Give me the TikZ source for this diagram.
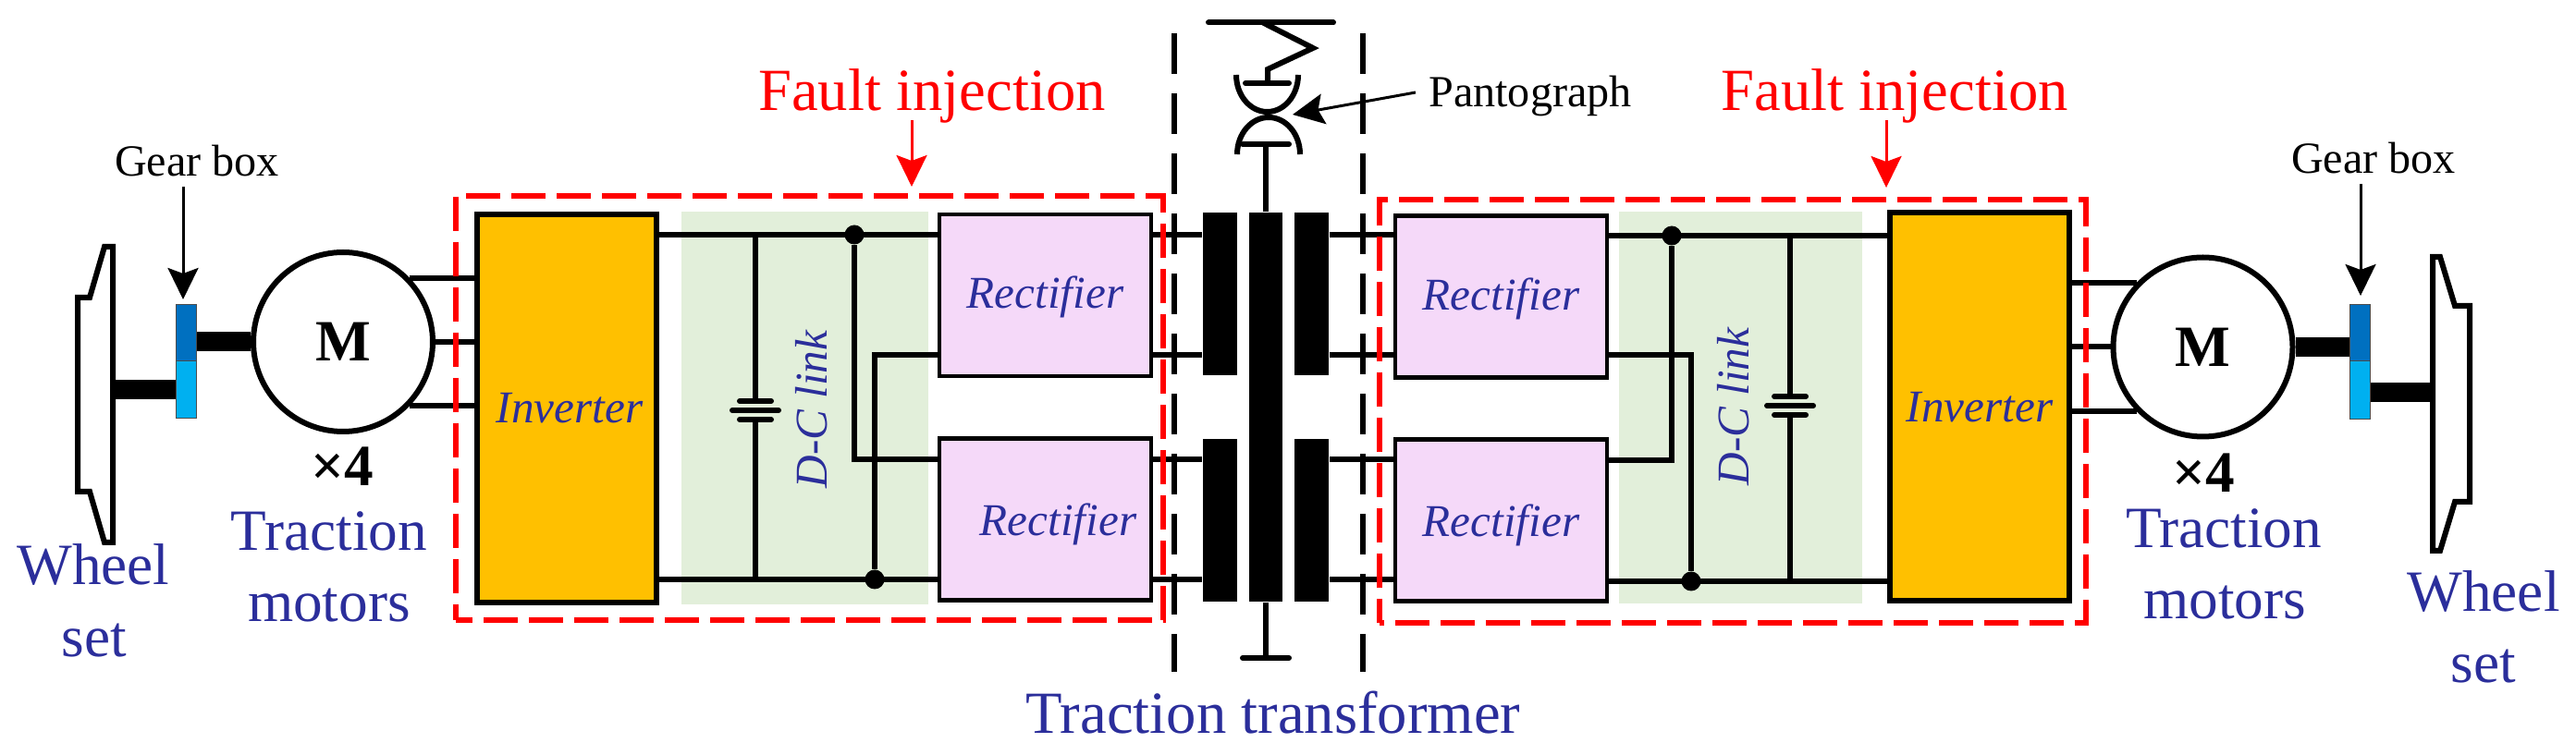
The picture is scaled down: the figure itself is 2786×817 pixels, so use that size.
\documentclass[tikz,border=0pt]{standalone}
\usepackage{fontspec}
\setmainfont{Liberation Serif}
\usetikzlibrary{positioning,arrows.meta}
\definecolor{titleblue}{HTML}{2B2E9B}
\definecolor{inverterfill}{HTML}{FFC000}
\definecolor{linkgreen}{HTML}{E2EFDA}
\definecolor{rectpink}{HTML}{F5D9F9}
\definecolor{geardark}{HTML}{0070C0}
\definecolor{gearlight}{HTML}{00B0F0}
\tikzset{
  wire/.style={line width=.6mm},
  shaft/.style={line width=2.1mm},
  rim/.style={line width=.6mm, line join=miter},
  zone/.style={line width=.6mm, dash pattern=on 4.4mm off 2.1mm},
  pointer/.style={line width=.3mm, -{Stealth[length=3.4mm,width=3.3mm,inset=.6mm]}},
  invbox/.style={draw, line width=.6mm, fill=inverterfill, minimum width=19.4mm, minimum height=42mm, inner sep=0, font=\fontsize{14}{16}\selectfont\itshape, text=titleblue},
  rectbox/.style={draw, line width=.45mm, fill=rectpink, minimum width=22.9mm, minimum height=17.5mm, inner sep=0, text height=3.9mm, text depth=1mm, font=\fontsize{14}{16}\selectfont\itshape, text=titleblue},
  coil/.style={fill=black, minimum width=3.7mm, minimum height=17.6mm, inner sep=0},
  linkbox/.style={fill=linkgreen, inner sep=0},
  faultbox/.style={draw=red, line width=.55mm, dash pattern=on 3.7mm off 1.2mm, inner sep=0},
  motor/.style={draw, circle, line width=.6mm, minimum size=19.4mm, inner sep=0, font=\fontsize{18}{20}\selectfont\bfseries},
  gear/.style={draw=black!70, line width=.1mm, minimum width=2.2mm, minimum height=6.1mm, inner sep=0},
  dot/.style={circle, fill=black, minimum size=2.1mm, inner sep=0},
  bluetxt/.style={anchor=base, inner sep=0, text=titleblue, font=\fontsize{18}{20}\selectfont},
  redtxt/.style={anchor=base, inner sep=0, text=red, font=\fontsize{18.4}{20}\selectfont},
  smalltxt/.style={anchor=base, inner sep=0, font=\fontsize{13.7}{16}\selectfont},
  linktxt/.style={inner sep=0, rotate=90, text=titleblue, font=\fontsize{14}{16}\selectfont\itshape},
}
\begin{document}
\begin{tikzpicture}[x=.1mm, y=-.1mm]
  \useasboundingbox (0,0) rectangle (2786,817);

  % green backgrounds
  \node[linkbox, minimum width=26.7mm, minimum height=42.5mm] (linkL) at (870.5,441.5) {};
  \node[linkbox, minimum width=26.3mm, minimum height=42.4mm] (linkR) at (1882.5,441) {};

  % converter blocks
  \node[invbox] (invL) at (613,442) {\hspace{.6mm}Inverter};
  \node[invbox] (invR) at (2141,440.5) {Inverter};
  \node[rectbox] (rectLa) at (1130.5,319.5) {Rectifier};
  \node[rectbox, text height=4.5mm] (rectLb) at (1130.5,562) {\hspace{2.8mm}Rectifier};
  \node[rectbox] (rectRa) at (1623.5,321) {Rectifier\hspace{2.2mm}};
  \node[rectbox, text height=4.5mm] (rectRb) at (1623.5,563) {Rectifier};
  \node[linktxt] (linkTxtL) at (878,443) {D-C link};
  \node[linktxt] (linkTxtR) at (1875,440) {D-C link};

  % transformer
  \node[coil] (coilLa) at (1319.5,318) {};
  \node[coil] (coilLb) at (1319.5,563) {};
  \node[coil] (coilRa) at (1418.5,318) {};
  \node[coil] (coilRb) at (1418.5,563) {};
  \node[coil, minimum width=3.6mm, minimum height=42.1mm] (core) at (1369,440.5) {};

  % junctions and capacitors
  \node[dot] (dotLa) at (924,254) {};
  \node[dot] (dotLb) at (946,627) {};
  \node[dot] (dotRa) at (1808,255) {};
  \node[dot] (dotRb) at (1829,629) {};
  \coordinate (capL) at (817,444);
  \coordinate (capR) at (1936,439);

  % d-c link wiring
  \draw[wire] (invL.east |- dotLa) -- (rectLa.west |- dotLa);
  \draw[wire] (invL.east |- dotLb) -- (rectLb.west |- dotLb);
  \draw[wire] (dotLa) -- (dotLa |- 0,497) -- (rectLb.west |- 0,497);
  \draw[wire] (rectLa.west |- 0,384) -- (dotLb |- 0,384) -- (dotLb);
  \draw[wire] (rectRa.east |- dotRa) -- (invR.west |- dotRa);
  \draw[wire] (rectRb.east |- dotRb) -- (invR.west |- dotRb);
  \draw[wire] (rectRb.east |- 0,498) -- (dotRa |- 0,498) -- (dotRa);
  \draw[wire] (rectRa.east |- 0,384) -- (dotRb |- 0,384) -- (dotRb);
  \draw[wire] (capL |- dotLa) -- ([yshift=1mm]capL);
  \draw[wire] ([yshift=-1mm]capL) -- (capL |- dotLb);
  \draw[wire] (capR |- dotRa) -- ([yshift=.9mm]capR);
  \draw[wire] ([yshift=-.9mm]capR) -- (capR |- dotRb);
  \foreach \cp in {capL,capR} {
    \draw[wire, line cap=round] ([xshift=-1.7mm,yshift=1mm]\cp) -- ([xshift=1.7mm,yshift=1mm]\cp);
    \draw[wire, line cap=round] ([xshift=-2.5mm]\cp) -- ([xshift=2.5mm]\cp);
    \draw[wire, line cap=round] ([xshift=-1.7mm,yshift=-1mm]\cp) -- ([xshift=1.7mm,yshift=-1mm]\cp);
  }

  % rectifier to transformer
  \foreach \yy in {254,384,497,627} {
    \draw[wire] (rectLa.east |- 0,\yy) -- (coilLa.west |- 0,\yy);
    \draw[wire] (coilRa.east |- 0,\yy) -- (rectRa.west |- 0,\yy);
  }

  % earth and pantograph
  \coordinate (earth) at (1369,712);
  \draw[wire] (core.south) -- (earth);
  \draw[wire, line cap=round] (1344,712) -- (1394,712);
  \coordinate (collector) at (1369,156);
  \draw[wire] (core.north) -- (collector);
  \draw[wire, line cap=round] (1344,156) -- (1394,156);
  \draw[wire] (1338,167) arc[start angle=180, end angle=360, x radius=34, y radius=40];
  \draw[wire] (1337,81) arc[start angle=180, end angle=0, x radius=33.5, y radius=40];
  \draw[wire, line cap=round] (1347,90) -- (1394,90);
  \draw[rim] (1371,90) -- (1371,75) -- (1420,52) -- (1366,24.5);
  \draw[rim, line cap=round] (1307,24.5) -- (1442,24.5);

  % motors, gears and wheels
  \node[motor] (motorL) at (371,370) {M};
  \node[motor] (motorR) at (2382.5,375.5) {M};
  \node[gear, fill=geardark] (gearLa) at (201,360.5) {};
  \node[gear, fill=gearlight, minimum height=6.2mm] (gearLb) at (201,422) {};
  \node[gear, fill=geardark] (gearRa) at (2552.5,360.5) {};
  \node[gear, fill=gearlight, minimum height=6.3mm] (gearRb) at (2552.5,422.5) {};
  \foreach \ang in {44,0,-44}
    \draw[wire] (motorL.\ang) -- (invL.west |- motorL.\ang);
  \foreach \ang in {136,180,224}
    \draw[wire] (invR.east |- motorR.\ang) -- (motorR.\ang);
  \coordinate (hubL) at (122,422);
  \coordinate (hubR) at (2631,425);
  \draw[shaft] (motorL.west) -- (gearLa.east |- motorL.west);
  \draw[shaft] (gearLb.west |- hubL) -- (hubL);
  \draw[shaft] (motorR.east) -- (gearRa.west |- motorR.east);
  \draw[shaft] (gearRb.east |- hubR) -- (hubR);
  \draw[rim] (122,267) -- (113,267) -- (97,322) -- (84,322) -- (84,532) -- (97,532) -- (113,587) -- (122,587) -- cycle;
  \draw[rim] (2631,278) -- (2639,278) -- (2655,331) -- (2671,331) -- (2671,543) -- (2655,543) -- (2639,596) -- (2631,596) -- cycle;

  % fault zones and transformer zone
  \node[faultbox, dash phase=1.9mm, minimum width=76.5mm, minimum height=45.9mm] (faultL) at (875.5,441.5) {};
  \node[faultbox, dash phase=3.2mm, minimum width=76.4mm, minimum height=45.8mm] (faultR) at (1874,445) {};
  \coordinate (zoneLa) at (1270,36);
  \coordinate (zoneLb) at (1270,727);
  \coordinate (zoneRa) at (1474,36);
  \coordinate (zoneRb) at (1474,727);
  \draw[zone] (zoneLa) -- (zoneLb);
  \draw[zone] (zoneRa) -- (zoneRb);

  % labels
  \node[redtxt] (faultTxtL) at (1008,120) {Fault injection};
  \node[redtxt] (faultTxtR) at (2049,120) {Fault injection};
  \node[smalltxt] (gearTxtL) at (213,191) {Gear box};
  \node[smalltxt] (gearTxtR) at (2567,188) {Gear box};
  \node[smalltxt] (pantoTxt) at (1655,116) {Pantograph};
  \node[bluetxt] (wheelTxtL) at (101,633) {Wheel};
  \node[bluetxt] (setTxtL) at (102,711) {set};
  \node[bluetxt] (wheelTxtR) at (2686,662) {Wheel};
  \node[bluetxt] (setTxtR) at (2686,739) {set};
  \node[bluetxt] (tracTxtL) at (356,596) {Traction};
  \node[bluetxt] (motTxtL) at (356,673) {motors};
  \node[bluetxt] (tracTxtR) at (2405,593) {Traction};
  \node[bluetxt] (motTxtR) at (2406,670) {motors};
  \node[bluetxt, font=\fontsize{18.4}{20}\selectfont] (tranTxt) at (1377,794) {Traction transformer};
  \node[anchor=base, inner sep=0, font=\fontsize{18}{20}\selectfont\bfseries] (countL) at (370,526) {×4};
  \node[anchor=base, inner sep=0, font=\fontsize{18}{20}\selectfont\bfseries] (countR) at (2383,533) {×4};

  % pointers
  \coordinate (gearTipL) at (198,324);
  \coordinate (gearTipR) at (2553,320);
  \coordinate (pantoTip) at (1398,124);
  \draw[pointer] (gearTipL |- 0,202) -- (gearTipL);
  \draw[pointer] (gearTipR |- 0,199) -- (gearTipR);
  \draw[pointer] (1531,100) -- (pantoTip);
  \coordinate (faultTipL) at (986,202);
  \coordinate (faultTipR) at (2040,203);
  \draw[pointer, red] (faultTipL |- 0,130) -- (faultTipL);
  \draw[pointer, red] (faultTipR |- 0,130) -- (faultTipR);
\end{tikzpicture}
\end{document}
